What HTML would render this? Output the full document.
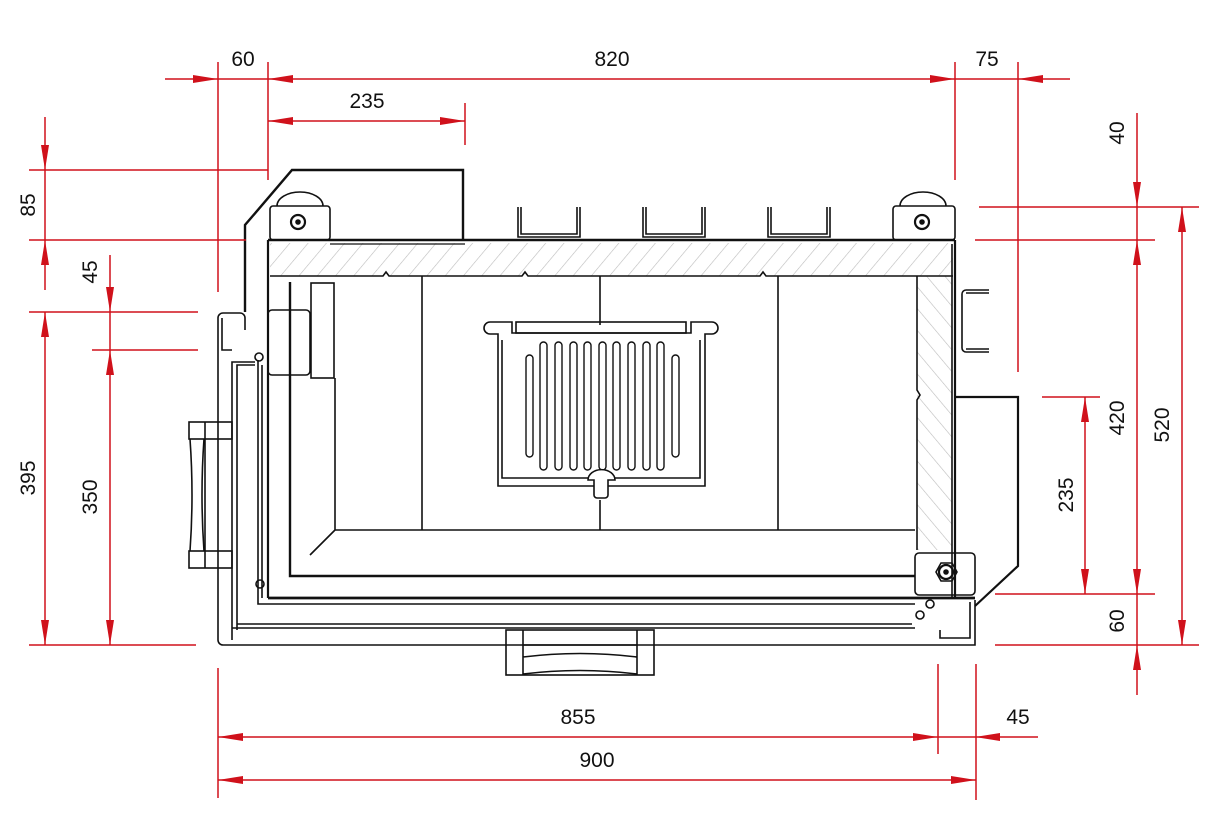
<!DOCTYPE html>
<html><head><meta charset="utf-8"><style>
html,body{margin:0;padding:0;background:#fff;}
svg{display:block}
text{font-family:"Liberation Sans",Arial,sans-serif;font-size:21px;fill:#111}
</style></head><body>
<svg width="1209" height="838" viewBox="0 0 1209 838" xmlns="http://www.w3.org/2000/svg">
<defs>
<pattern id="h1" patternUnits="userSpaceOnUse" width="14" height="14" patternTransform="rotate(40)">
<line x1="0" y1="0" x2="0" y2="14" stroke="#bbb" stroke-width="1.2"/></pattern>
<pattern id="h2" patternUnits="userSpaceOnUse" width="14" height="14" patternTransform="rotate(-40)">
<line x1="0" y1="0" x2="0" y2="14" stroke="#bbb" stroke-width="1.2"/></pattern>
</defs>

<g fill="none" stroke="#111" stroke-width="1.6">
<rect x="270" y="243" width="683" height="33" fill="url(#h1)" stroke="none"/>
<rect x="917" y="276" width="35" height="274" fill="url(#h2)" stroke="none"/>
<path d="M270 276 H383 l3 -4 l3 4 H522 l3 -4 l3 4 H760 l3 -4 l3 4 H953"/>
<path d="M917 276 V390 l3 5 l-3 5 V550"/>
<path d="M245 312 V225 L292 170 H463 V240" stroke-width="2.4"/>
<path d="M268 240 H955" stroke-width="2.4"/>
<path d="M325 240 H470 M330 244 H465" stroke-width="1.2"/>
<rect x="270" y="206" width="60" height="34" rx="3"/>
<path d="M277 206 a23 14 0 0 1 46 0"/>
<circle cx="298" cy="222" r="7" stroke-width="2.2"/><circle cx="298" cy="222" r="2" fill="#111"/>
<rect x="893" y="206" width="62" height="34" rx="3"/>
<path d="M900 206 a23 14 0 0 1 46 0"/>
<circle cx="922" cy="222" r="7" stroke-width="2.2"/><circle cx="922" cy="222" r="2" fill="#111"/>
<path d="M518 207 V237 H580 V207 M521 207 V234 H577 V207"/>
<path d="M643 207 V237 H705 V207 M646 207 V234 H702 V207"/>
<path d="M768 207 V237 H830 V207 M771 207 V234 H827 V207"/>
<path d="M268 240 V598 M955 240 V598" stroke-width="2.2"/>
<path d="M952 244 V598"/>
<path d="M268 598 H975" stroke-width="2.8"/>
<path d="M422 276 V530 M778 276 V530 M600 276 V325 M600 500 V530"/>
<rect x="311" y="283" width="23" height="95"/>
<path d="M290 282 V576 H915" stroke-width="2.4"/>
<path d="M335 378 V530 H915 M335 530 L310 555"/>
<rect x="268" y="310" width="42" height="65" rx="4"/>
<path d="M490 322 H512 V333 H691 V322 H712 a6 6 0 0 1 0 12 H705 V486 H498 V334 H490 a6 6 0 0 1 0 -12 Z"/>
<rect x="516" y="322" width="170" height="11"/>
<path d="M502 340 V478 H700 V340"/>
<g stroke-width="1.4">
<rect x="526" y="355" width="7" height="102" rx="3.5"/>
<rect x="540" y="342" width="7" height="128" rx="3.5"/>
<rect x="555" y="342" width="7" height="128" rx="3.5"/>
<rect x="570" y="342" width="7" height="128" rx="3.5"/>
<rect x="584" y="342" width="7" height="128" rx="3.5"/>
<rect x="599" y="342" width="7" height="128" rx="3.5"/>
<rect x="613" y="342" width="7" height="128" rx="3.5"/>
<rect x="628" y="342" width="7" height="128" rx="3.5"/>
<rect x="643" y="342" width="7" height="128" rx="3.5"/>
<rect x="657" y="342" width="7" height="128" rx="3.5"/>
<rect x="672" y="355" width="7" height="102" rx="3.5"/>
</g>
<path d="M588 480 a13 10 0 0 1 27 0 H608 V495 a3 3 0 0 1 -3 3 H597 a3 3 0 0 1 -3 -3 V480 Z" fill="#fff"/>
<path d="M218 318 a5 5 0 0 1 5 -5 H240 a5 5 0 0 1 5 5 V330"/>
<path d="M218 318 V640 a5 5 0 0 0 5 5 H975 V600"/>
<path d="M222 318 V350 H232"/>
<path d="M232 640 V362 H255 M237 630 V365 H255 M232 628 H915 M237 624 H912"/>
<path d="M258 360 V604 H915 M262 365 V598"/>
<circle cx="259" cy="357" r="4"/><circle cx="260" cy="584" r="4"/>
<rect x="189" y="422" width="43" height="17"/><rect x="189" y="551" width="43" height="17"/>
<path d="M205 422 V568"/>
<path d="M190 439 Q194 495 190 551 M204 439 Q200 495 204 551"/>
<rect x="506" y="630" width="148" height="45"/>
<path d="M523 630 V675 M637 630 V675 M523 645 H637 M523 657 Q580 650 637 657 M523 674 Q580 667 637 674"/>
<path d="M955 397 H1018 V566 L975 606" stroke-width="2.2"/>
<path d="M989 290 H966 a4 4 0 0 0 -4 4 V348 a4 4 0 0 0 4 4 H989 M989 293 H966 M989 349 H966"/>
<rect x="915" y="553" width="60" height="42" rx="4"/>
<polygon points="936,572 941,563 952,563 957,572 952,581 941,581" stroke-width="1.6"/>
<circle cx="946" cy="572" r="7" stroke-width="2.2"/><circle cx="946" cy="572" r="2" fill="#111"/>
<path d="M940 630 V638 H970 V602"/>
<circle cx="930" cy="604" r="4"/><circle cx="920" cy="615" r="4"/>
</g>

<g stroke="#d0111b" stroke-width="1.5" fill="none">
<path d="M165 79 H1070 M268 121 H465"/>
<path d="M218 62 V292 M268 62 V180 M955 62 V180 M1018 62 V372 M465 103 V145"/>
<path d="M45 117 V290 M45 312 V645 M110 255 V645"/>
<path d="M29 170 H268 M29 240 H246 M29 312 H198 M92 350 H198 M29 645 H196"/>
<path d="M1137 113 V695 M1182 207 V645 M1085 397 V594"/>
<path d="M979 207 H1199 M975 240 H1155 M1042 397 H1100 M995 594 H1155 M995 645 H1199"/>
<path d="M218 668 V798 M938 664 V754 M976 664 V800"/>
<path d="M218 737 H1038 M218 780 H976"/>
</g>
<g fill="#d0111b">
<polygon points="193,75 218,79 193,83"/><polygon points="293,75 268,79 293,83"/>
<polygon points="930,75 955,79 930,83"/><polygon points="1043,75 1018,79 1043,83"/>
<polygon points="293,117 268,121 293,125"/><polygon points="440,117 465,121 440,125"/>
<polygon points="41,145 45,170 49,145"/><polygon points="41,265 45,240 49,265"/>
<polygon points="41,337 45,312 49,337"/><polygon points="41,620 45,645 49,620"/>
<polygon points="106,287 110,312 114,287"/><polygon points="106,375 110,350 114,375"/>
<polygon points="106,620 110,645 114,620"/>
<polygon points="1133,182 1137,207 1141,182"/><polygon points="1133,265 1137,240 1141,265"/>
<polygon points="1133,569 1137,594 1141,569"/><polygon points="1133,670 1137,645 1141,670"/>
<polygon points="1178,232 1182,207 1186,232"/><polygon points="1178,620 1182,645 1186,620"/>
<polygon points="1081,422 1085,397 1089,422"/><polygon points="1081,569 1085,594 1089,569"/>
<polygon points="243,733 218,737 243,741"/><polygon points="913,733 938,737 913,741"/>
<polygon points="1000,733 975,737 1000,741"/>
<polygon points="243,776 218,780 243,784"/><polygon points="951,776 976,780 951,784"/>
</g>
<g>
<text x="243" y="66" text-anchor="middle">60</text>
<text x="612" y="66" text-anchor="middle">820</text>
<text x="987" y="66" text-anchor="middle">75</text>
<text x="367" y="108" text-anchor="middle">235</text>
<text x="578" y="724" text-anchor="middle">855</text>
<text x="1018" y="724" text-anchor="middle">45</text>
<text x="597" y="767" text-anchor="middle">900</text>
<text transform="translate(35,205) rotate(-90)" text-anchor="middle">85</text>
<text transform="translate(35,478) rotate(-90)" text-anchor="middle">395</text>
<text transform="translate(97,272) rotate(-90)" text-anchor="middle">45</text>
<text transform="translate(97,497) rotate(-90)" text-anchor="middle">350</text>
<text transform="translate(1124,133) rotate(-90)" text-anchor="middle">40</text>
<text transform="translate(1124,418) rotate(-90)" text-anchor="middle">420</text>
<text transform="translate(1124,621) rotate(-90)" text-anchor="middle">60</text>
<text transform="translate(1169,425) rotate(-90)" text-anchor="middle">520</text>
<text transform="translate(1073,495) rotate(-90)" text-anchor="middle">235</text>
</g>
</svg>
</body></html>
